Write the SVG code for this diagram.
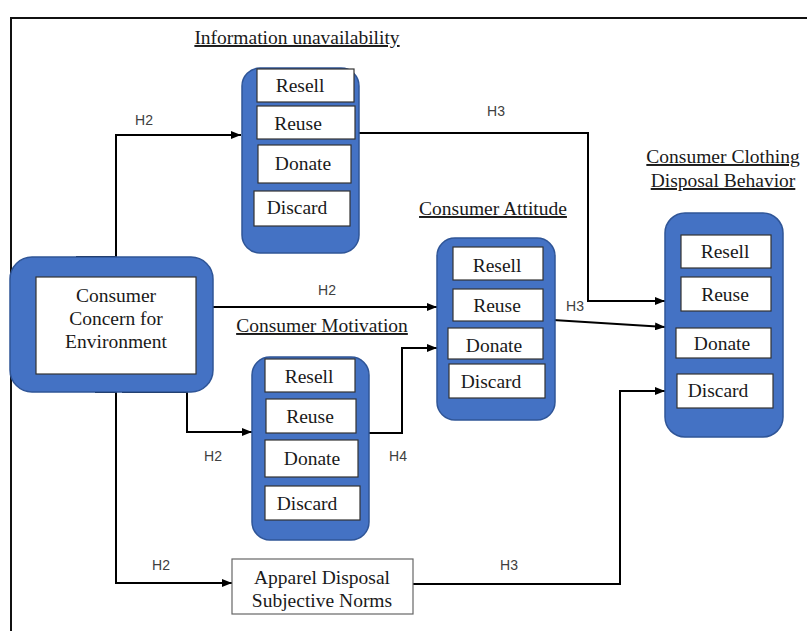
<svg xmlns="http://www.w3.org/2000/svg" width="807" height="631" viewBox="0 0 807 631">
<defs>
<marker id="arr" markerWidth="10" markerHeight="8" refX="10" refY="4" orient="auto" markerUnits="userSpaceOnUse">
<path d="M0,0 L10,4 L0,8 z" fill="#000"/>
</marker>
<style>
.blue{fill:#4472C4;stroke:#2F5597;stroke-width:1.5}
.item{fill:#fff;stroke:#333;stroke-width:1.2}
.t{font-family:"Liberation Serif","Times New Roman",serif;font-size:19.5px;fill:#1a1a1a;text-anchor:middle}
.ttl{font-family:"Liberation Serif","Times New Roman",serif;font-size:19.5px;fill:#1a1a1a;text-anchor:middle;text-decoration:underline}
.h{font-family:"Liberation Sans",Arial,sans-serif;font-size:14px;fill:#404040;text-anchor:middle}
.c{fill:none;stroke:#000;stroke-width:2}
</style>
</defs>
<rect width="807" height="631" fill="#fff"/>
<path d="M11,631 V18 H807" fill="none" stroke="#111" stroke-width="2"/>

<g id="connectors">
<path class="c" d="M76,257 H116 V135 H241" marker-end="url(#arr)"/>
<path class="c" d="M213,307 H437" marker-end="url(#arr)"/>
<path class="c" d="M122,392 H187 V432 H252" marker-end="url(#arr)"/>
<path class="c" d="M95,392 H116 V583 H232" marker-end="url(#arr)"/>
<path class="c" d="M369,433 H402 V348 H437" marker-end="url(#arr)"/>
<path class="c" d="M357,133 H588 V301 H665" marker-end="url(#arr)"/>
<path class="c" d="M553,320 L665,327" marker-end="url(#arr)"/>
<path class="c" d="M413,584 H620 V391 H665" marker-end="url(#arr)"/>
<text class="h" x="144" y="125">H2</text>
<text class="h" x="327" y="295">H2</text>
<text class="h" x="213" y="461">H2</text>
<text class="h" x="161" y="570">H2</text>
<text class="h" x="398" y="461">H4</text>
<text class="h" x="496" y="116">H3</text>
<text class="h" x="575" y="311">H3</text>
<text class="h" x="509" y="570">H3</text>
</g>

<g id="concern">
<rect class="blue" x="10" y="257" width="203" height="135" rx="22"/>
<rect class="item" x="36" y="277" width="160" height="97"/>
<text class="t" x="116" y="302">Consumer</text>
<text class="t" x="116" y="325">Concern for</text>
<text class="t" x="116" y="348">Environment</text>
</g>

<g id="info">
<text class="ttl" x="297" y="44">Information unavailability</text>
<rect class="blue" x="242" y="68" width="117" height="185" rx="18"/>
<rect class="item" x="257" y="69" width="97" height="33"/>
<rect class="item" x="257" y="106" width="98" height="33"/>
<rect class="item" x="258" y="145" width="93" height="38"/>
<rect class="item" x="254" y="191" width="96" height="35"/>
<text class="t" x="300" y="92">Resell</text>
<text class="t" x="298" y="130">Reuse</text>
<text class="t" x="303" y="170">Donate</text>
<text class="t" x="297" y="214">Discard</text>
</g>

<g id="attitude">
<text class="ttl" x="493" y="215">Consumer Attitude</text>
<rect class="blue" x="437" y="238" width="118" height="182" rx="18"/>
<rect class="item" x="453" y="247" width="90" height="33"/>
<rect class="item" x="453" y="289" width="90" height="32"/>
<rect class="item" x="448" y="328" width="95" height="31"/>
<rect class="item" x="449" y="364" width="96" height="34"/>
<text class="t" x="497" y="272">Resell</text>
<text class="t" x="497" y="312">Reuse</text>
<text class="t" x="494" y="352">Donate</text>
<text class="t" x="491" y="388">Discard</text>
</g>

<g id="behavior">
<text class="ttl" x="723" y="163">Consumer Clothing</text>
<text class="ttl" x="723" y="187">Disposal Behavior</text>
<rect class="blue" x="665" y="213" width="118" height="224" rx="20"/>
<rect class="item" x="681" y="235" width="90" height="33"/>
<rect class="item" x="681" y="277" width="90" height="34"/>
<rect class="item" x="676" y="328" width="95" height="30"/>
<rect class="item" x="677" y="374" width="96" height="34"/>
<text class="t" x="725" y="258">Resell</text>
<text class="t" x="725" y="301">Reuse</text>
<text class="t" x="722" y="350">Donate</text>
<text class="t" x="718" y="397">Discard</text>
</g>

<g id="motivation">
<text class="ttl" x="322" y="332">Consumer Motivation</text>
<rect class="blue" x="252" y="357" width="117" height="183" rx="18"/>
<rect class="item" x="265" y="359" width="90" height="33"/>
<rect class="item" x="266" y="399" width="90" height="34"/>
<rect class="item" x="265" y="440" width="93" height="37"/>
<rect class="item" x="265" y="486" width="95" height="34"/>
<text class="t" x="309" y="383">Resell</text>
<text class="t" x="310" y="423">Reuse</text>
<text class="t" x="312" y="465">Donate</text>
<text class="t" x="307" y="510">Discard</text>
</g>

<g id="norms">
<rect x="232" y="559" width="181" height="55" fill="#fff" stroke="#666" stroke-width="1.2"/>
<text class="t" x="322" y="584">Apparel Disposal</text>
<text class="t" x="322" y="607">Subjective Norms</text>
</g>
</svg>
